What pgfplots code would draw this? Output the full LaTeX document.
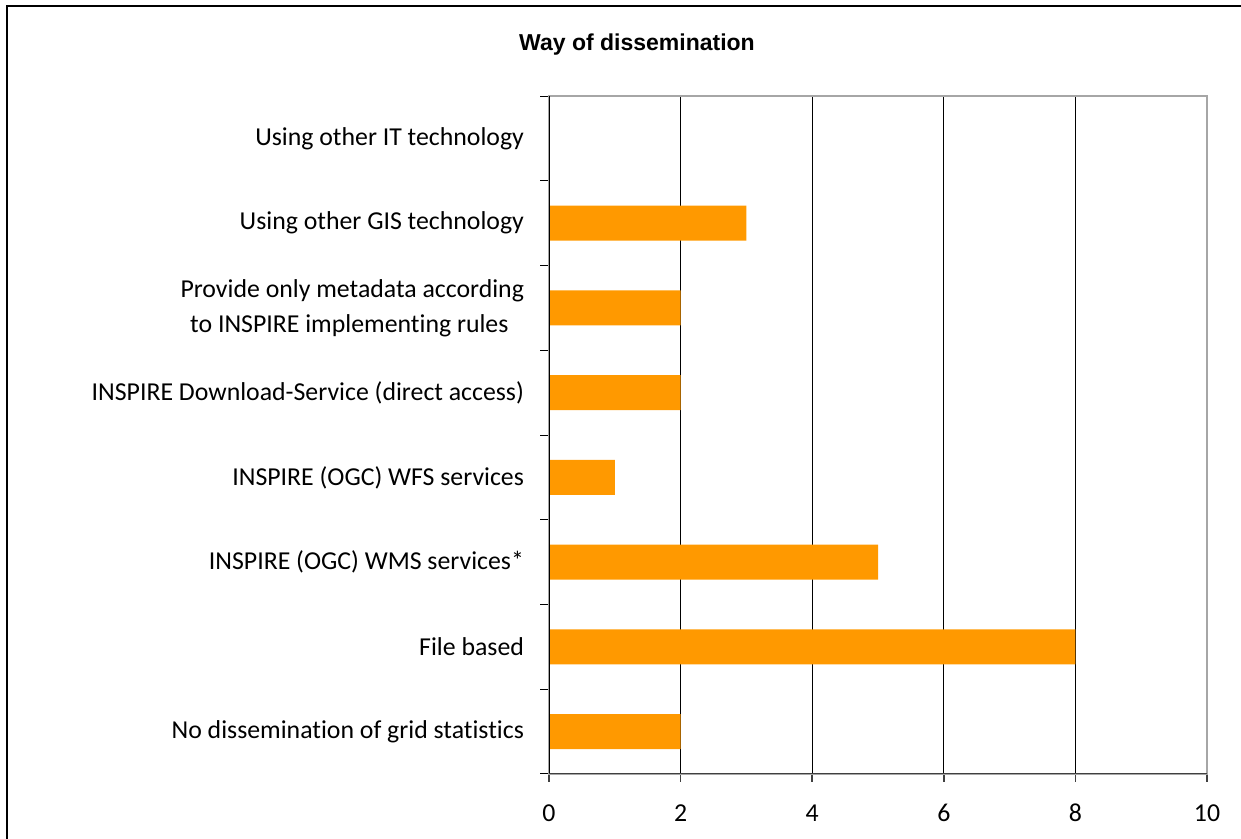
\documentclass[border=0pt]{standalone}
\usepackage{fontspec}
\setmainfont{Carlito}[Numbers=Lining, Ligatures=NoCommon]
\newfontfamily\titlefont{Liberation Sans}
\usepackage{pgfplots}
\pgfplotsset{compat=1.18}
\definecolor{barorange}{RGB}{255,153,0}
\begin{document}
\begin{tikzpicture}
\useasboundingbox (0,0) rectangle (620.5pt,419.5pt);
\draw[line width=0.9pt] (3.5pt,-3pt) -- (3.5pt,416.5pt) -- (623pt,416.5pt);
\node[font=\titlefont\bfseries\fontsize{11.5}{13}\selectfont] at (318.5pt,397pt) {Way of dissemination};
\begin{axis}[
    at={(274.5pt,32.5pt)}, anchor=south west,
    scale only axis, width=329pt, height=339pt,
    xbar, bar width=17.5pt,
    xmin=0, xmax=10, ymin=-0.5, ymax=7.5,
    xtick={0,2,...,10},
    ytick={0,...,7},
    yticklabels={No dissemination of grid statistics, File based, INSPIRE (OGC) WMS services*, INSPIRE (OGC) WFS services, INSPIRE Download-Service (direct access), {Provide only metadata according\\to INSPIRE implementing rules\ \ }, Using other GIS technology, Using other IT technology},
    minor ytick={-0.5,0.5,...,7.5},
    tick pos=left,
    tick align=outside,
    major tick length=4pt, minor tick length=4.5pt,
    major y tick style={draw=none},
    minor y tick style={black, line width=0.5pt},
    x tick style={darkgray, line width=0.8pt},
    xmajorgrids, major grid style={black, line width=0.5pt},
    axis line style={gray!70, line width=0.8pt},
    tick label style={font=\fontsize{12.9}{17.5}\selectfont},
    yticklabel style={align=center, xshift=-5pt},
    xticklabel style={anchor=north, text height=9pt, text depth=0pt, yshift=-7pt},
    /pgf/number format/assume math mode=true,
]
\addplot[fill=barorange, draw=none] coordinates {
    (2,0) (8,1) (5,2) (1,3) (2,4) (2,5) (3,6) (0,7)
};
\draw[black, line width=0.5pt] (axis cs:0,-0.5) -- (axis cs:0,7.5);
\draw[darkgray, line width=1pt] (axis cs:0,-0.5) -- (axis cs:10,-0.5);
\end{axis}
\end{tikzpicture}
\end{document}
